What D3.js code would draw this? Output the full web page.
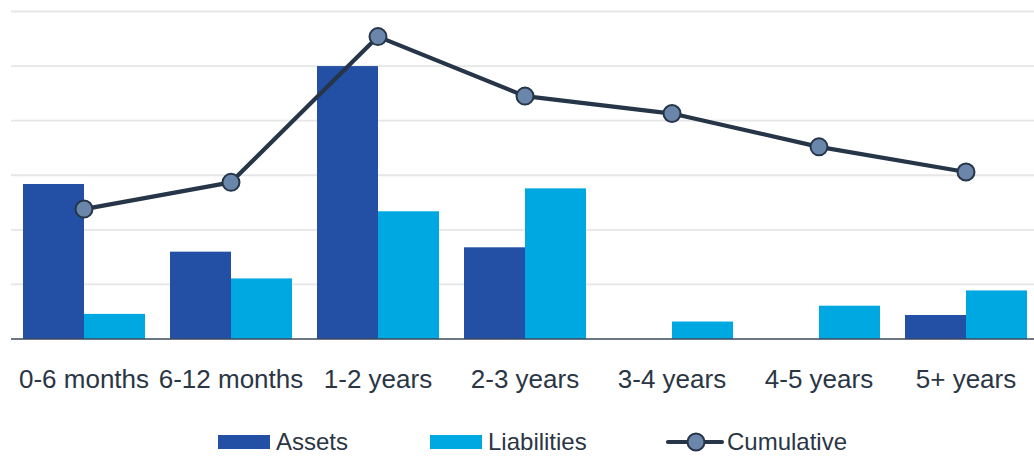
<!DOCTYPE html>
<html>
<head>
<meta charset="utf-8">
<script src="https://cdn.jsdelivr.net/npm/d3@7"></script>
<style>
  html, body { margin: 0; padding: 0; background: #fff; }
  svg { display: block; }
  text { font-family: "Liberation Sans", Arial, sans-serif; fill: #2a3645; }
</style>
</head>
<body>
<svg id="chart" width="1034" height="456"></svg>
<script>
// Maturity buckets and gap-analysis values
const categories = ["0-6 months", "6-12 months", "1-2 years", "2-3 years", "3-4 years", "4-5 years", "5+ years"];
const assets      = [28.4, 16.0, 50.0, 16.8, 0, 0, 4.4];
const liabilities = [4.6, 11.1, 23.4, 27.6, 3.2, 6.1, 8.9];
const cumulative  = [23.8, 28.7, 55.4, 44.5, 41.3, 35.2, 30.6];
const yTicks      = [0, 10, 20, 30, 40, 50, 60];
const seriesNames = ["Assets", "Liabilities", "Cumulative"];

const colors = { assets: "#2350a5", liabilities: "#00a8e2", line: "#263548", marker: "#6a86aa" };

const svg = d3.select("#chart");
const W = 1034;
const plot = { left: 10.5, right: 1039.5, top: 11.5, bottom: 339 };

const x = d3.scaleBand()
  .domain(categories)
  .range([plot.left, plot.right])
  .paddingInner(0.17)
  .paddingOuter(0.085);

const xInner = d3.scaleBand()
  .domain(["assets", "liabilities"])
  .range([0, x.bandwidth()]);

const y = d3.scaleLinear()
  .domain([0, 60])
  .range([plot.bottom, plot.top]);

// horizontal gridlines
svg.append("g")
  .selectAll("line")
  .data(yTicks.filter(t => t > 0))
  .join("line")
  .attr("x1", 11).attr("x2", W)
  .attr("y1", d => y(d)).attr("y2", d => y(d))
  .attr("stroke", "#e6e6e6")
  .attr("stroke-width", 1.8);

// grouped bars
const groups = svg.append("g")
  .selectAll("g")
  .data(categories.map((c, i) => ({ c, assets: assets[i], liabilities: liabilities[i] })))
  .join("g")
  .attr("transform", d => `translate(${x(d.c)},0)`);

groups.selectAll("rect")
  .data(d => ["assets", "liabilities"].map(k => ({ k, v: d[k] })))
  .join("rect")
  .attr("x", d => xInner(d.k))
  .attr("width", xInner.bandwidth())
  .attr("y", d => y(d.v))
  .attr("height", d => y(0) - y(d.v))
  .attr("fill", d => colors[d.k]);

// baseline axis
const xAxis = d3.axisBottom(x).tickSize(0).tickPadding(0);
const axisG = svg.append("g")
  .attr("transform", `translate(0,${y(0)})`)
  .call(xAxis);
axisG.select(".domain")
  .attr("d", `M11,0H${W}`)
  .attr("stroke", "#3b4a5c")
  .attr("stroke-width", 1.6);
axisG.selectAll(".tick text")
  .attr("y", 49)
  .attr("dy", 0)
  .style("font-size", "26px")
  .style("font-family", "'Liberation Sans', Arial, sans-serif")
  .attr("fill", "#2a3645");

// cumulative line with markers
const cx = c => x(c) + x.bandwidth() / 2;
const line = d3.line()
  .x((d, i) => cx(categories[i]))
  .y(d => y(d));

svg.append("path")
  .datum(cumulative)
  .attr("d", line)
  .attr("fill", "none")
  .attr("stroke", colors.line)
  .attr("stroke-width", 4.2)
  .attr("stroke-linejoin", "round");

svg.append("g")
  .selectAll("circle")
  .data(cumulative)
  .join("circle")
  .attr("cx", (d, i) => cx(categories[i]))
  .attr("cy", d => y(d))
  .attr("r", 8.5)
  .attr("fill", colors.marker)
  .attr("stroke", colors.line)
  .attr("stroke-width", 2);

// legend
const legend = svg.append("g");
const legendBase = 450;
const legendItems = [
  { name: seriesNames[0], type: "rect", color: colors.assets, x: 218 },
  { name: seriesNames[1], type: "rect", color: colors.liabilities, x: 430 },
  { name: seriesNames[2], type: "line", color: colors.line, x: 668 }
];
legendItems.forEach(it => {
  if (it.type === "rect") {
    legend.append("rect")
      .attr("x", it.x).attr("y", legendBase - 15)
      .attr("width", 52).attr("height", 14)
      .attr("fill", it.color);
    legend.append("text")
      .attr("x", it.x + 58).attr("y", legendBase)
      .style("font-size", "24px")
      .text(it.name);
  } else {
    legend.append("line")
      .attr("x1", it.x).attr("x2", it.x + 54)
      .attr("y1", legendBase - 8).attr("y2", legendBase - 8)
      .attr("stroke", it.color)
      .attr("stroke-width", 4.2)
      .attr("stroke-linecap", "round");
    legend.append("circle")
      .attr("cx", it.x + 28).attr("cy", legendBase - 8)
      .attr("r", 8.5)
      .attr("fill", colors.marker)
      .attr("stroke", colors.line)
      .attr("stroke-width", 2);
    legend.append("text")
      .attr("x", it.x + 59).attr("y", legendBase)
      .style("font-size", "24px")
      .text(it.name);
  }
});
</script>
</body>
</html>
